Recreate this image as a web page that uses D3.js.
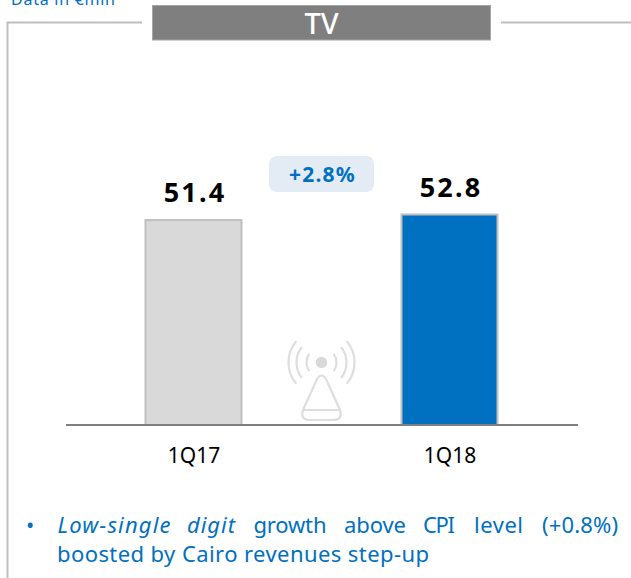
<!DOCTYPE html>
<html><head><meta charset="utf-8">
<script src="https://cdn.jsdelivr.net/npm/d3@7/dist/d3.min.js"></script>
<style>html,body{margin:0;padding:0;background:#fff;overflow:hidden}svg{display:block}text{font-family:"Noto Sans",sans-serif}</style>
</head><body><svg id="c" width="631" height="578"></svg>
<script>
const categories = ["1Q17","1Q18"];
const values = [51.4,52.8];
const barColors = ["#d9d9d9","#0070c0"];
const title = "TV";
const growth = "+2.8%";
const unitNote = "Data in €mln";
const note1Words = ["growth","above","CPI","level","(+0.8%)"];
const note1Italic = ["Low-single","digit"];
const note2 = "boosted by Cairo revenues step-up";

const svg = d3.select("#c");
const x = d3.scalePoint().domain(categories).range([193.5,449.5]);
const y = d3.scaleLinear().domain([0,52.8]).range([425,214.5]);
const blue = "#0070c0";
const fit = (sel,w)=>sel.attr("textLength",w).attr("lengthAdjust","spacing");

fit(svg.append("text").attr("x",11).attr("y",5).attr("font-size",16).attr("fill",blue).text(unitNote),104);
svg.append("path").attr("d","M7.5,578V22.5H142M501,22.5H631").attr("fill","none").attr("stroke","#bfbfbf").attr("stroke-width",2);
svg.append("rect").attr("x",152.5).attr("y",5.5).attr("width",338).attr("height",34.5).attr("fill","#7f7f7f").attr("stroke","#a6a6a6").attr("stroke-width",1);
svg.append("text").attr("x",321.5).attr("y",33.5).attr("text-anchor","middle").attr("font-size",29).attr("font-weight","500").attr("fill","#fff").text(title);

svg.selectAll("rect.bar").data(values).join("rect").attr("class","bar")
  .attr("x",(d,i)=>x(categories[i])-48).attr("width",96)
  .attr("y",d=>y(d)).attr("height",d=>y(0)-y(d))
  .attr("fill",(d,i)=>barColors[i]).attr("stroke","#bfbfbf").attr("stroke-width",2);

svg.selectAll("text.val").data(values).join("text").attr("class","val")
  .attr("x",(d,i)=>x(categories[i])+1.5).attr("y",d=>y(d)-18)
  .attr("text-anchor","middle").attr("font-size",27).attr("font-weight","bold").attr("letter-spacing",2.2).attr("fill","#000")
  .text(d=>d.toFixed(1));

svg.append("rect").attr("x",269).attr("y",156).attr("width",105).attr("height",36).attr("rx",8).attr("fill","#e3ebf5");
svg.append("text").attr("x",322.5).attr("y",182).attr("text-anchor","middle").attr("font-size",21).attr("font-weight","bold").attr("letter-spacing",1.2).attr("fill",blue).text(growth);

const ax = d3.axisBottom(x).tickSize(0).tickPadding(23);
const g = svg.append("g").attr("transform","translate(0,425)").call(ax);
g.select(".domain").remove();
g.selectAll("text").attr("font-size",21).attr("fill","#000").style("font-family",'"Noto Sans",sans-serif');
svg.append("line").attr("x1",66).attr("x2",578).attr("y1",425).attr("y2",425).attr("stroke","#7f7f7f").attr("stroke-width",2);

// antenna icon
const ic = svg.append("g").attr("fill","none").attr("stroke","#dedede").attr("stroke-width",2.2).attr("stroke-linecap","round");
const cx=321.5, cy=362.5;
svg.append("circle").attr("cx",cx).attr("cy",cy).attr("r",5.7).attr("fill","#d9d9d9");
[[15,35],[25,38],[33,40]].forEach(([r,a])=>{
  [0,180].forEach(o=>{
    ic.append("path").attr("d",d3.arc().innerRadius(r).outerRadius(r).startAngle((90+o-a)*Math.PI/180).endAngle((90+o+a)*Math.PI/180)()).attr("transform",`translate(${cx},${cy})`);
  });
});
ic.append("path").attr("d","M317,379Q321.5,372 326,379L340,410Q343,420 333,420H310Q300,420 303,410Z");
ic.append("path").attr("d","M304,410H339");

// notes
const nb=533, ns=22;
svg.append("text").attr("x",26).attr("y",nb).attr("font-size",ns).attr("fill",blue).text("•");
const ix=[57.5,187], iw=[113,48];
note1Italic.forEach((w,i)=>fit(svg.append("text").attr("x",ix[i]).attr("y",nb).attr("font-size",ns).attr("font-style","italic").attr("fill",blue).text(w),iw[i]));
const wx=[253.5,344,423,474,542], ww=[73,62,32,49,76];
note1Words.forEach((w,i)=>fit(svg.append("text").attr("x",wx[i]).attr("y",nb).attr("font-size",ns).attr("fill",blue).text(w),ww[i]));
fit(svg.append("text").attr("x",57).attr("y",562).attr("font-size",ns).attr("fill",blue).text(note2),372);
</script></body></html>
